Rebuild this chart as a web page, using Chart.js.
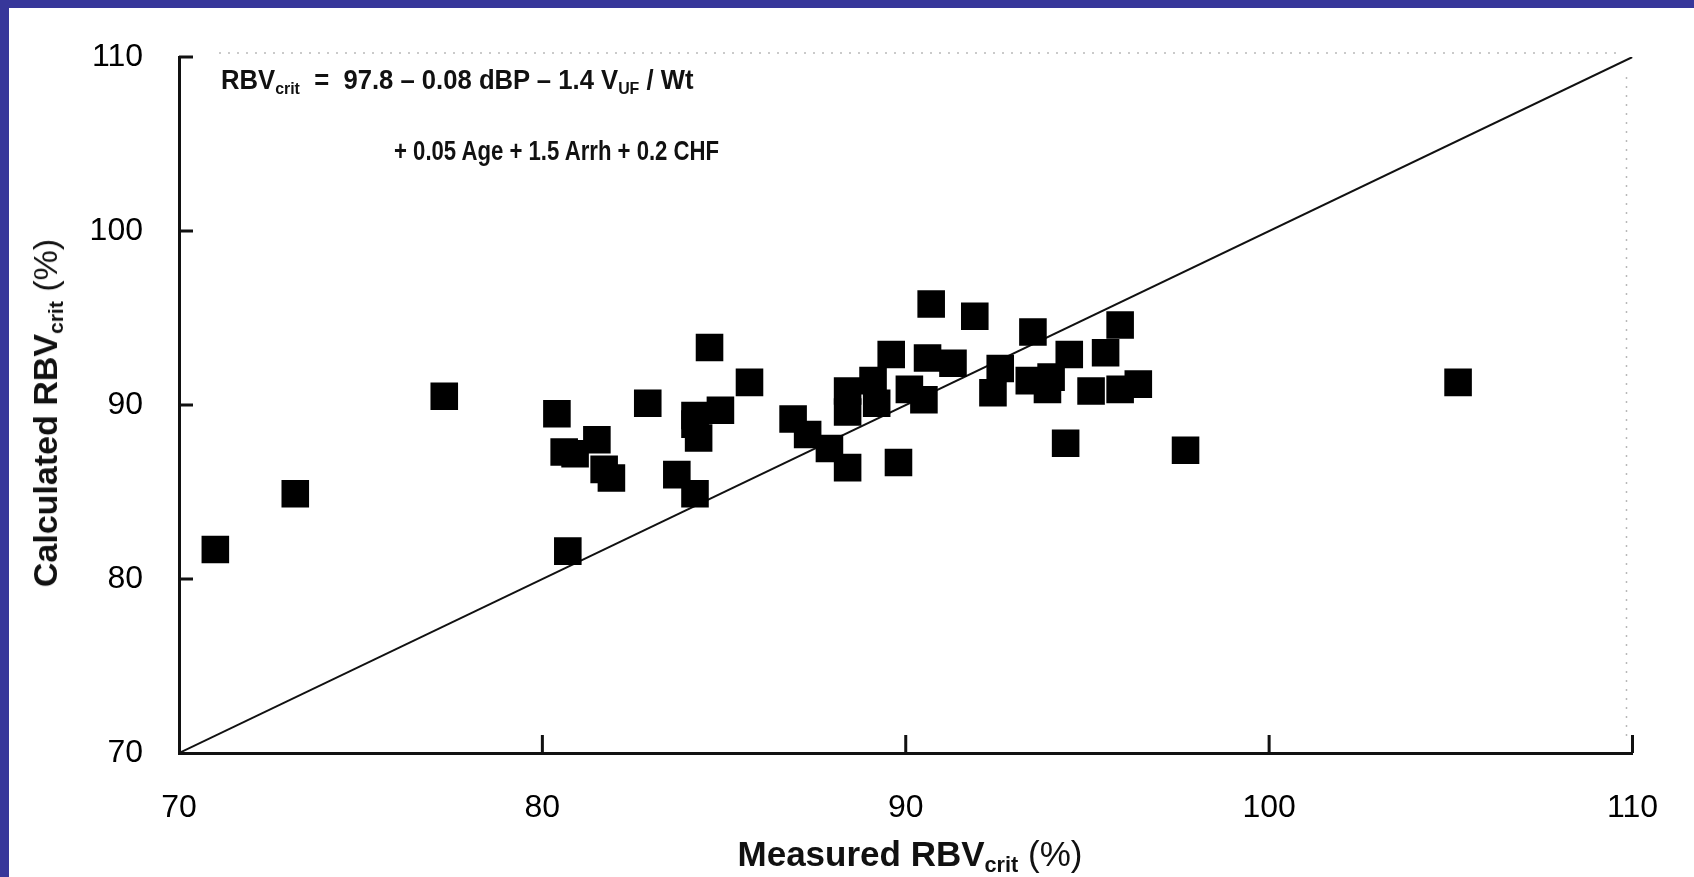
<!DOCTYPE html>
<html><head><meta charset="utf-8">
<script src="https://cdn.jsdelivr.net/npm/chart.js@4/dist/chart.umd.min.js"></script>
<style>
html,body{margin:0;padding:0;background:#fff;}
#wrap{position:relative;width:1694px;height:877px;overflow:hidden;background:#fff;}
#c{position:absolute;left:0;top:0;}
.t{position:absolute;font-family:"Liberation Sans",Arial,sans-serif;color:#111;white-space:nowrap;font-weight:bold;line-height:1;}
.t sub{font-size:62%;vertical-align:baseline;position:relative;top:0.28em;}
.n{font-weight:normal;}
.c{transform:translate(-50%,-50%);}
.r{transform:translate(-50%,-50%) rotate(-90deg);}
.band{position:absolute;background:#37379a;}
</style></head><body>
<div id="wrap">
<canvas id="c" width="1694" height="877"></canvas>
<div class="band" style="left:0;top:0;width:1694px;height:8px"></div>
<div class="band" style="left:0;top:0;width:9px;height:877px"></div>
<div class="t" style="left:221px;top:67px;font-size:27px;transform:scaleX(0.95);transform-origin:left center;">RBV<sub>crit</sub>&nbsp;&nbsp;=&nbsp;&nbsp;97.8 – 0.08 dBP – 1.4 V<sub>UF</sub> / Wt</div>
<div class="t" style="left:394px;top:138px;font-size:27px;transform:scaleX(0.82);transform-origin:left center;">+ 0.05 Age + 1.5 Arrh + 0.2 CHF</div>
<div class="t c" style="left:910px;top:853px;font-size:35px;">Measured RBV<sub>crit</sub> <span class="n">(%)</span></div>
<div class="t r" style="left:45px;top:413px;font-size:34px;">Calculated RBV<sub>crit</sub> <span class="n">(%)</span></div>
</div>
<script>
// Measured RBVcrit (%) – x values
const measured = [71.0,73.2,77.3,80.4,80.6,80.9,81.5,81.7,81.9,80.7,82.9,84.6,85.7,84.2,84.9,84.3,84.2,83.7,84.2,86.9,87.3,87.9,88.4,89.8,88.4,88.4,89.1,89.2,89.6,90.7,91.9,90.6,91.3,90.1,90.5,93.5,92.6,92.4,93.4,94.0,94.5,95.1,95.5,95.9,95.9,96.4,94.4,97.7,105.2,93.9];
// Calculated RBVcrit (%) – y values
const calculated = [81.7,84.9,90.5,89.5,87.3,87.2,88.0,86.3,85.8,81.6,90.1,93.3,91.3,89.4,89.7,88.1,88.9,86.0,84.9,89.2,88.3,87.5,86.4,86.7,90.8,89.6,91.4,90.1,92.9,95.8,95.1,92.7,92.4,90.9,90.3,94.2,92.1,90.7,91.4,91.6,92.9,90.8,93.0,94.6,90.9,91.2,87.8,87.4,91.3,90.9];
// line of identity
const identityX = [70, 110];
const identityY = [70, 110];
// axis ticks
const xTicks = [70, 80, 90, 100, 110];
const yTicks = [70, 80, 90, 100, 110];

const points = measured.map((v, i) => ({x: v, y: calculated[i]}));
const identity = identityX.map((v, i) => ({x: v, y: identityY[i]}));

const decor = {
  id: 'decor',
  beforeDraw(chart) {
    const {ctx, width, height} = chart;
    ctx.save();
    ctx.fillStyle = '#fff';
    ctx.fillRect(0, 0, width, height);
    ctx.restore();
  },
  afterDraw(chart) {
    const {ctx, chartArea: a, scales: {x, y}} = chart;
    ctx.save();
    // faint dotted frame (top and right)
    ctx.strokeStyle = 'rgba(0,0,0,0.28)';
    ctx.lineWidth = 1.5;
    ctx.setLineDash([2, 7]);
    ctx.beginPath();
    ctx.moveTo(a.left + 40, a.top - 4);
    ctx.lineTo(a.right - 10, a.top - 4);
    ctx.moveTo(a.right - 6, a.top + 20);
    ctx.lineTo(a.right - 6, a.bottom - 12);
    ctx.stroke();
    ctx.setLineDash([]);
    // inward tick marks
    ctx.strokeStyle = '#111';
    ctx.lineWidth = 3;
    ctx.beginPath();
    yTicks.forEach(v => {
      if (v === yTicks[0]) return;
      const py = y.getPixelForValue(v);
      ctx.moveTo(a.left, py);
      ctx.lineTo(a.left + 14, py);
    });
    xTicks.forEach(v => {
      if (v === xTicks[0]) return;
      const px = x.getPixelForValue(v);
      ctx.moveTo(px, a.bottom);
      ctx.lineTo(px, a.bottom - 18);
    });
    ctx.stroke();
    ctx.restore();
  }
};

new Chart(document.getElementById('c'), {
  type: 'scatter',
  data: {
    datasets: [
      {
        label: 'Patients',
        data: points,
        pointStyle: 'rect',
        pointRadius: 19.5,
        pointHoverRadius: 19.5,
        backgroundColor: '#000',
        borderWidth: 0
      },
      {
        type: 'line',
        label: 'Identity',
        data: identity,
        borderColor: '#111',
        borderWidth: 2,
        pointRadius: 0,
        fill: false
      }
    ]
  },
  options: {
    responsive: false,
    animation: false,
    devicePixelRatio: 1,
    layout: {padding: {left: 0, top: 57, right: 61, bottom: 0}},
    plugins: {legend: {display: false}, tooltip: {enabled: false}},
    scales: {
      x: {
        type: 'linear', min: 70, max: 110,
        afterFit: s => { s.height = 124; },
        afterBuildTicks: s => { s.ticks = xTicks.map(v => ({value: v})); },
        grid: {display: false, drawTicks: false},
        border: {display: true, color: '#111', width: 3},
        ticks: {color: '#000', padding: 36, font: {family: '"Liberation Sans", Arial, sans-serif', size: 32}}
      },
      y: {
        type: 'linear', min: 70, max: 110,
        afterFit: s => { s.width = 179; },
        afterBuildTicks: s => { s.ticks = yTicks.map(v => ({value: v})); },
        grid: {display: false, drawTicks: false},
        border: {display: true, color: '#111', width: 3},
        ticks: {color: '#000', padding: 36, font: {family: '"Liberation Sans", Arial, sans-serif', size: 32}}
      }
    }
  },
  plugins: [decor]
});
</script>
</body></html>
